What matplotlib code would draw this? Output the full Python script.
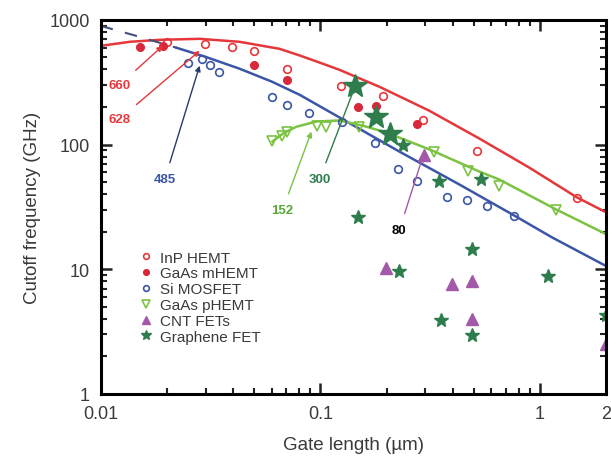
import numpy as np
import matplotlib.pyplot as plt

plt.rcParams['font.family'] = ['Liberation Sans', 'DejaVu Sans']
plt.rc('font', size=13)
plt.rc('axes', linewidth=2.2)

# --- data (gate length in um, fT in GHz) ---
inp_x = [0.0200, 0.0297, 0.0394, 0.0501, 0.0701, 0.1246, 0.1933, 0.2938, 0.517, 1.472]
inp_y = [670, 643, 608, 565, 406, 296, 247, 156, 89.5, 37]

mhemt_x = [0.01504, 0.01913, 0.0501, 0.0701, 0.1489, 0.1797, 0.276]
mhemt_y = [608, 619, 437, 331, 201, 205, 145]

si_x = [0.0249, 0.0288, 0.0313, 0.0347, 0.0599, 0.0701, 0.0891, 0.1259, 0.1778,
        0.2262, 0.276, 0.3777, 0.4656, 0.5741, 0.762]
si_y = [453, 488, 437, 384, 242, 209, 180, 153, 102, 63.1, 50.6, 37.7, 35.6, 31.9, 26.5]

phemt_x = [0.0605, 0.0671, 0.0708, 0.0969, 0.1064, 0.1503, 0.3297, 0.4706, 0.651, 1.182]
phemt_y = [106, 118, 127, 142, 139, 139, 87.9, 61.9, 46.1, 29.6]

cnt_x = [0.297, 0.1995, 0.398, 0.4909, 0.4909, 1.99]
cnt_y = [81.7, 10.2, 7.59, 8.02, 3.98, 2.51]

gr_x = [0.1442, 0.1797, 0.208, 0.2384, 0.3475, 0.5394, 0.1489, 0.4909, 0.2286,
        1.087, 0.3548, 0.4909, 1.99]
gr_y = [296, 167, 122, 100, 50.6, 52.5, 26.1, 14.5, 9.64, 8.79, 3.91, 2.96, 4.29]

# fitted trend curves, traced point by point
red_fit_x = [0.01, 0.01355, 0.01854, 0.02818, 0.0428, 0.0651, 0.08, 0.099, 0.1219,
             0.1854, 0.3128, 0.528, 0.891, 1.472, 2.0]
red_fit_y = [619, 667, 692, 705, 667, 586, 520, 455, 398, 291, 187, 112, 65.5, 37.7, 28.6]

blue_fit_x = [0.02215, 0.03, 0.0428, 0.06, 0.0803, 0.1259, 0.2286, 0.4285, 0.762, 1.134, 2.0]
blue_fit_y = [597, 505, 406, 320, 251, 160, 87.9, 47.9, 27.0, 18.0, 10.6]
blue_dash_x = [0.01, 0.01504, 0.02215]
blue_dash_y = [895, 731, 597]

green_fit_x = [0.0605, 0.0686, 0.0778, 0.0959, 0.1219, 0.1552, 0.1995, 0.3228,
               0.528, 0.651, 1.182, 2.0]
green_fit_y = [106, 125, 139, 153, 156, 142, 125, 89.5, 60.8, 52.5, 30.2, 19.1]

red = '#e5383b'
blue = '#3b56a6'
lgreen = '#7cc243'
dgreen = '#2f7d4c'
purple = '#a25aa8'

fig = plt.figure(figsize=(6.11, 4.64), dpi=100)
ax = fig.add_axes([0.165, 0.149, 0.827, 0.806])

ax.plot(red_fit_x, red_fit_y, color=red, lw=1.8)
ax.plot(blue_fit_x, blue_fit_y, color=blue, lw=1.8)
ax.plot(blue_dash_x, blue_dash_y, color='#45507a', lw=1.5, ls=(0, (6, 6)))
ax.plot(green_fit_x, green_fit_y, color=lgreen, lw=1.8)

ax.plot(inp_x, inp_y, 'o', mfc='none', mec=red, mew=1.2, ms=5.5, label='InP HEMT')
ax.plot(mhemt_x, mhemt_y, 'o', color='#d8283a', ms=5.5, label='GaAs mHEMT')
ax.plot(si_x, si_y, 'o', mfc='none', mec=blue, mew=1.2, ms=5.5, label='Si MOSFET')
ax.plot(phemt_x, phemt_y, 'v', mfc='none', mec=lgreen, mew=1.2, ms=7, label='GaAs pHEMT')
ax.plot(cnt_x, cnt_y, '^', color=purple, ms=8, label='CNT FETs')
ax.plot(gr_x[3:], gr_y[3:], '*', color=dgreen, ms=10.5, label='Graphene FET')
ax.plot(gr_x[:3], gr_y[:3], '*', color=dgreen, ms=18)

# arrows with the peak fT values
def note(txt, xy, xytext, col, tcol=None):
    ax.annotate(txt, xy=xy, xytext=xytext, color=tcol or col, fontsize=9.5,
                fontweight='bold', ha='center', va='center',
                arrowprops=dict(arrowstyle='-|>', color=col, lw=1.0,
                                mutation_scale=8, shrinkA=6, shrinkB=0))

note('660', (0.01913, 619), (0.0122, 302), red)
note('628', (0.02818, 565), (0.0122, 161), red)
note('485', (0.02818, 429), (0.01954, 52.5), '#2b3a6e', blue)
note('152', (0.091, 127), (0.0671, 29.6), lgreen, '#5aa83a')
note('300', (0.1442, 296), (0.099, 52.5), dgreen)
note('80', (0.2938, 81.7), (0.2286, 20.5), purple, 'black')

ax.set_xscale('log')
ax.set_yscale('log')
ax.set_xlim(0.01, 2)
ax.set_ylim(1, 1000)
ax.set_xticks([0.01, 0.1, 1, 2])
ax.set_xticklabels(['0.01', '0.1', '1', '2'])
ax.set_yticks([1, 10, 100, 1000])
ax.set_yticklabels(['1', '10', '100', '1000'])
ax.tick_params(which='both', direction='in', top=True, right=True, colors='#222222',
               labelcolor='#3a3a3a', labelsize=13)
ax.tick_params(which='major', length=8, width=1.8, pad=8)
ax.tick_params(which='minor', length=4, width=1.5)

ax.set_xlabel('Gate length (\u00b5m)', color='#3a3a3a', fontsize=13.5, labelpad=10)
ax.set_ylabel('Cutoff frequency (GHz)', color='#3a3a3a', fontsize=13.5, labelpad=6)

leg = ax.legend(loc='upper left', bbox_to_anchor=(0.045, 0.42), frameon=False,
                fontsize=11, labelspacing=0.12, handletextpad=0.3, markerscale=0.75,
                handlelength=1.2)
for t in leg.get_texts():
    t.set_color('#3a3a3a')

fig.savefig('out.png', dpi=100)
